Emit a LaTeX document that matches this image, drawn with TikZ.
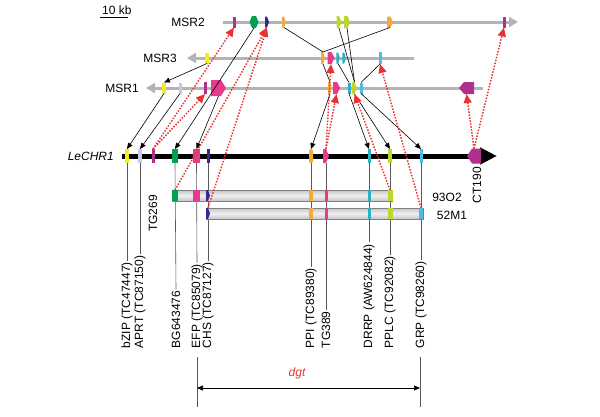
\documentclass[tikz,border=0pt]{standalone}
\usepackage{fontspec}
\setmainfont{Liberation Sans}
\usetikzlibrary{arrows.meta}
\definecolor{cmag}{RGB}{176,48,142}
\definecolor{cgrn}{RGB}{0,160,80}
\definecolor{cind}{RGB}{55,40,140}
\definecolor{corg}{RGB}{245,168,60}
\definecolor{cyg}{RGB}{190,214,48}
\definecolor{cpnk}{RGB}{232,58,140}
\definecolor{ccy}{RGB}{40,178,196}
\definecolor{clb}{RGB}{80,185,233}
\definecolor{cyel}{RGB}{245,235,40}
\definecolor{clav}{RGB}{200,200,230}
\definecolor{cgry}{RGB}{180,180,180}
\definecolor{cred}{RGB}{235,50,50}
% gene markers: name, x, y, width, height, colour [, pointer length]
\newcommand\gbar[6]{\node[inner sep=0pt,outer sep=0pt,minimum width=#4pt,minimum height=#5pt,fill=#6] (#1) at (#2,#3) {};}
\newcommand\gright[7]{\node[inner sep=0pt,outer sep=0pt,minimum width=#4pt,minimum height=#5pt] (#1) at (#2,#3) {};
  \fill[#6] (#1.north west) -- ([xshift=-#7pt]#1.north east) -- (#1.east) -- ([xshift=-#7pt]#1.south east) -- (#1.south west) -- cycle;}
\newcommand\gleft[7]{\node[inner sep=0pt,outer sep=0pt,minimum width=#4pt,minimum height=#5pt] (#1) at (#2,#3) {};
  \fill[#6] (#1.north east) -- ([xshift=#7pt]#1.north west) -- (#1.west) -- ([xshift=#7pt]#1.south west) -- (#1.south east) -- cycle;}
\newcommand\gboth[7]{\node[inner sep=0pt,outer sep=0pt,minimum width=#4pt,minimum height=#5pt] (#1) at (#2,#3) {};
  \fill[#6] ([xshift=#7pt]#1.north west) -- ([xshift=-#7pt]#1.north east) -- (#1.east) -- ([xshift=-#7pt]#1.south east) -- ([xshift=#7pt]#1.south west) -- (#1.west) -- cycle;}
\begin{document}
\begin{tikzpicture}[x=1pt,y=-1pt,
  every node/.style={font=\fontsize{12}{14}\selectfont},
  msr/.style={draw=cgry, line width=3pt, -{Triangle[length=9pt,width=10pt]}},
  bac/.style={draw=gray, line width=0.8pt, top color=gray!45, bottom color=gray!45, middle color=gray!12, minimum height=11pt, inner sep=0pt},
  lab/.style={rotate=90, anchor=west, inner sep=1.5pt},
  vl/.style={draw=gray!70!black, line width=0.6pt},
  bk/.style={draw=black, line width=0.6pt, -{Triangle[length=6pt,width=5pt]}},
  bl/.style={draw=black, line width=0.6pt},
  rd/.style={draw=cred, line width=1.5pt, dash pattern=on 1.5pt off 1.5pt, -{Triangle[length=9pt,width=8pt]}}
]
\useasboundingbox (0,0) rectangle (600,416);
% scale bar
\node[anchor=south west, inner sep=0pt] (sb) at (102,14.5) {10 kb};
\draw[line width=0.8pt] (100,17) -- (128,17);
% backbones
\draw[msr] (223,22) -- (518,22);
\draw[msr] (414,58) -- (187,58);
\draw[msr] (483,88) -- (146,88);
\node[anchor=east, inner sep=0pt] (lm2) at (205,22) {MSR2};
\node[anchor=east, inner sep=0pt] (lm3) at (177,58) {MSR3};
\node[anchor=east, inner sep=0pt] (lm1) at (139,88) {MSR1};
\draw[line width=5pt, -{Triangle[length=17pt,width=16pt]}] (122,156) -- (497,156);
\node[anchor=east, inner sep=0pt, font=\fontsize{12}{14}\selectfont\itshape] (lle) at (114,156) {LeCHR1};
% MSR2 markers
\gbar{m2a}{234}{22}{3}{11}{cmag}
\gboth{m2b}{254}{22}{9}{12}{cgrn}{2.5}
\gright{m2c}{267}{22}{4}{11}{cind}{2}
\gright{m2d}{284}{22}{4}{11}{corg}{2}
\gright{m2e}{339}{22}{5}{12}{cyg}{2.5}
\gright{m2f}{347}{22}{6}{12}{cyg}{2.5}
\gright{m2g}{390}{22}{6}{11}{corg}{2.5}
\gbar{m2h}{504}{22}{3}{11}{cmag}
% MSR3 markers
\gbar{m3a}{207}{58}{4}{11}{cyel}
\gright{m3b}{323}{58}{4}{12}{corg}{2}
\gright{m3c}{331}{58}{7}{12}{cpnk}{3}
\gright{m3d}{338}{58}{3.5}{11}{ccy}{1.5}
\gright{m3e}{344}{58}{3.5}{11}{ccy}{1.5}
\gbar{m3f}{380}{58}{3}{12}{clb}
% MSR1 markers
\gbar{m1a}{164}{88}{4}{11}{cyel}
\gbar{m1b}{180}{88}{3}{11}{clav}
\gbar{m1c}{205}{88}{3}{12}{cmag}
\gright{m1d}{218.5}{88}{15}{16}{cpnk}{5}
\gright{m1e}{330}{88}{4}{12}{corg}{2}
\gright{m1f}{336.5}{88}{7}{12}{cpnk}{3}
\gbar{m1g}{349}{88}{3}{11}{ccy}
\gright{m1h}{354.5}{88}{5}{12}{cyg}{2.5}
\gbar{m1i}{361}{88}{3}{11}{clb}
\gleft{m1j}{466.5}{88}{15}{12}{cmag}{5}
% LeCHR1 markers
\gbar{L1}{127}{156}{4}{14}{cyel}
\gbar{L2}{140}{156}{4}{14}{clav}
\gbar{L3}{153}{156}{3}{14}{cmag}
\gbar{L4}{175}{156}{6}{14}{cgrn}
\gbar{L5}{196.5}{156}{7}{14}{cpnk}
\gbar{L6}{208}{156}{3}{14}{cind}
\node[inner sep=0pt, outer sep=0pt, minimum width=4pt, minimum height=14pt, fill=corg, rounded corners=1.5pt] (L7) at (311,156) {};
\gright{L8}{326}{156}{6}{14}{cpnk}{3}
\gbar{L9}{369}{156}{3}{14}{ccy}
\gbar{L10}{390}{156}{4}{14}{cyg}
\gbar{L11}{421}{156}{3}{14}{clb}
\gleft{L12}{474}{156}{14}{15}{cmag}{5}
\node[rotate=90, anchor=east, inner sep=0pt] (tg269) at (153,195) {TG269};
\node[rotate=90, anchor=east, inner sep=0pt] (ct190) at (477,167) {CT190};
% bottom labels
\node[lab] (t1) at (127,350) {bZIP (TC47447)};
\node[lab] (t2) at (140,350) {APRT (TC87150)};
\node[lab] (t4) at (176,350) {BG643476};
\node[lab] (t5) at (197,350) {EFP (TC85079)};
\node[lab] (t6) at (208,350) {CHS (TC87127)};
\node[lab] (t7) at (311,350) {PPI (TC89380)};
\node[lab] (t8) at (326,350) {TG389};
\node[lab] (t9) at (369,350) {DRRP (AW624844)};
\node[lab] (t10) at (390,350) {PPLC (TC92082)};
\node[lab] (t11) at (421,350) {GRP (TC98260)};
\draw[vl] (L1.south) -- (t1.east);
\draw[vl] (L2.south) -- (t2.east);
\draw[vl] (L4.south) -- (t4.east);
\draw[vl] (L5.south) -- (t5.east);
\draw[vl] (L6.south) -- (t6.east);
\draw[vl] (L7.south) -- (t7.east);
\draw[vl] (L8.south) -- (t8.east);
\draw[vl] (L9.south) -- (t9.east);
\draw[vl] (L10.south) -- (t10.east);
\draw[vl] (L11.south) -- (t11.east);
% BACs
\node[bac, minimum width=220pt] (bac1) at (282,195.5) {};
\node[bac, minimum width=217pt] (bac2) at (314.5,213.5) {};
\node[anchor=center, inner sep=0pt] (l93) at (447,197) {93O2};
\node[anchor=center, inner sep=0pt] (l52) at (452,215) {52M1};
\gbar{b1g}{175}{195.5}{6}{11}{cgrn}
\gbar{b1p}{196.5}{195.5}{7}{11}{cpnk}
\gright{b1i}{208}{195.5}{4}{11}{cind}{2}
\gbar{b1o}{311}{195.5}{4}{11}{corg}
\gbar{b1k}{326}{195.5}{3}{11}{cpnk}
\gbar{b1c}{369}{195.5}{3}{11}{ccy}
\gbar{b1y}{390}{195.5}{5}{11}{cyg}
\gright{b2i}{208}{213.5}{4}{11}{cind}{2}
\gbar{b2o}{311}{213.5}{4}{11}{corg}
\gbar{b2k}{326}{213.5}{3}{11}{cpnk}
\gbar{b2c}{369}{213.5}{3}{11}{ccy}
\gbar{b2y}{390}{213.5}{5}{11}{cyg}
\gbar{b2l}{421}{213.5}{4}{11}{clb}
% black lines between MSRs
\draw[bl] (m2d.south) -- (m3b.north);
\draw[bl] (m2g.south) -- (m3b.north);
\draw[bl] (m2e.south) -- (m1h.north);
\draw[bl] (m2f.south) -- (m1h.north);
\draw[bl] (m3d.south) -- (m1g.north);
\draw[bl] (m3b.south) -- (m1e.north);
\draw[bl] (m3f.south) -- (m1i.north);
\draw[bk] (m3a.south) -- (m1a.north);
% black arrows to LeCHR1
\draw[bk] (m1a.south) -- (L1.north);
\draw[bk] (m1b.south) -- (L2.north);
\draw[bk] (m2b.south) -- (L4.north);
\draw[bk] (m1d.south) -- (L5.north);
\draw[bk] (m1e.south) -- (L7.north);
\draw[bk] (m1g.south) -- (L9.north);
\draw[bk] (m1h.south) -- (L10.north);
\draw[bk] (m1i.south) -- (L11.north);
% red dotted arrows
\draw[rd] (L3.north) -- (m2a.south);
\draw[rd] (L3.north) -- (m1c.south);
\draw[rd] (b1g.north) -- (m2c.south);
\draw[rd] (b2i.north) -- (m2c.south);
\draw[rd] (L8.north) -- (m1f.south);
\draw[rd] (L8.north) -- (m3c.south);
\draw[rd] (b1y.north) -- (m1h.south);
\draw[rd] (b2l.north) -- (m3f.south);
\draw[rd] (L12.north) -- (m1j.south);
\draw[rd] (L12.north) -- (m2h.south);
% dgt interval
\coordinate (d1t) at (197,357);
\coordinate (d1b) at (197,407);
\coordinate (d2t) at (420,357);
\coordinate (d2b) at (420,407);
\coordinate (d1) at (197,388);
\coordinate (d2) at (420,388);
\draw[vl] (d1t) -- (d1b);
\draw[vl] (d2t) -- (d2b);
\draw[line width=0.6pt, {Triangle[length=6pt,width=5pt]}-{Triangle[length=6pt,width=5pt]}] (d1) -- (d2);
\node[text=cred, font=\fontsize{12}{14}\selectfont\itshape] (dgt) at (297,373) {dgt};
\end{tikzpicture}
\end{document}
